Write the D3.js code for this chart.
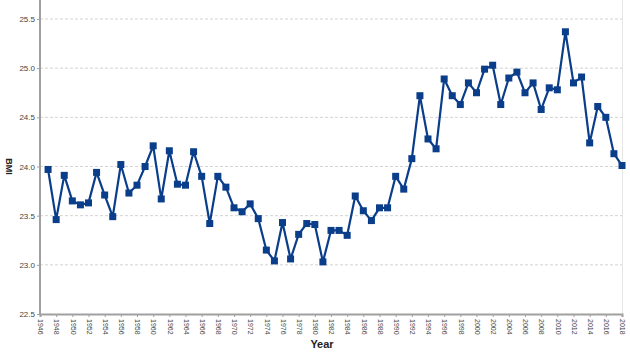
<!DOCTYPE html>
<html>
<head>
<meta charset="utf-8">
<script src="https://cdn.jsdelivr.net/npm/d3@7"></script>
<style>
  body { margin: 0; background: #fff; }
  svg { display: block; font-family: "Liberation Sans", Arial, sans-serif; }
</style>
</head>
<body>
<div id="chart"></div>
<script>
// data
const years = d3.range(1947, 2019);
const bmi = [
  23.97, 23.46, 23.91, 23.65, 23.61, 23.63, 23.94, 23.71, 23.49, 24.02,
  23.73, 23.81, 24.00, 24.21, 23.67, 24.16, 23.82, 23.81, 24.15, 23.90,
  23.42, 23.90, 23.79, 23.58, 23.54, 23.62, 23.47, 23.15, 23.04, 23.43,
  23.06, 23.31, 23.42, 23.41, 23.03, 23.35, 23.35, 23.30, 23.70, 23.55,
  23.45, 23.58, 23.58, 23.90, 23.77, 24.08, 24.72, 24.28, 24.18, 24.89,
  24.72, 24.63, 24.85, 24.75, 24.99, 25.03, 24.63, 24.90, 24.96, 24.75,
  24.85, 24.58, 24.80, 24.78, 25.37, 24.85, 24.91, 24.24, 24.61, 24.50,
  24.13, 24.01
];
const yTicks = [22.5, 23.0, 23.5, 24.0, 24.5, 25.0, 25.5];
const xTicks = d3.range(1946, 2019, 2);

const data = years.map((y, i) => ({ year: y, value: bmi[i] }));

let margin = { top: 19, right: 8, bottom: 39, left: 40 };
let width = 630 - margin.left - margin.right;
let height = 353 - margin.top - margin.bottom;

let svg = d3.select('#chart')
  .append('svg')
  .attr('width', 630)
  .attr('height', 353)
  .append('g')
  .attr('transform', `translate(${margin.left}, ${margin.top})`);

let x = d3.scaleLinear().domain([1946, 2018]).range([0, 582]);
let y = d3.scaleLinear().domain([22.5, 25.5]).range([height, 0]);

// grid lines
svg.append('g')
  .selectAll('line')
  .data(yTicks.slice(1))
  .enter()
  .append('line')
  .attr('x1', 0)
  .attr('x2', 582)
  .attr('y1', d => y(d))
  .attr('y2', d => y(d))
  .attr('stroke', '#d2d2d2')
  .attr('stroke-width', 1)
  .attr('stroke-dasharray', '3,2');

// right border
svg.append('line')
  .attr('x1', 582.5).attr('x2', 582.5)
  .attr('y1', -margin.top).attr('y2', height)
  .attr('stroke', '#e6e6e6');

// y axis
let yAxis = d3.axisLeft(y)
  .tickValues(yTicks)
  .tickFormat(d3.format('.1f'))
  .tickSize(3)
  .tickPadding(2);
let gy = svg.append('g').call(yAxis);
gy.select('.domain').attr('stroke', '#a0a0a0').attr('stroke-width', 2)
  .attr('d', `M0,${-margin.top}V${height}`);
gy.selectAll('.tick line').attr('stroke', '#a0a0a0');
gy.selectAll('text').attr('fill', '#444').style('font-size', '8px');

// x axis
let xAxis = d3.axisBottom(x)
  .tickValues(xTicks)
  .tickFormat(d3.format('d'))
  .tickSize(3);
let gx = svg.append('g')
  .attr('transform', `translate(0, ${height})`)
  .call(xAxis);
gx.select('.domain').attr('stroke', '#a0a0a0').attr('stroke-width', 2);
gx.selectAll('.tick line').attr('stroke', '#a0a0a0');
gx.selectAll('text')
  .attr('fill', '#444')
  .style('font-size', '7px')
  .style('text-anchor', 'start')
  .attr('dy', '0.32em')
  .attr('x', 0)
  .attr('y', 0)
  .attr('transform', 'translate(0, 5) rotate(90)');

// axis titles
svg.append('text')
  .attr('x', 282)
  .attr('y', height + 34)
  .attr('text-anchor', 'middle')
  .style('font-size', '11px')
  .style('font-weight', 'bold')
  .attr('fill', '#222')
  .text('Year');

svg.append('text')
  .attr('transform', `translate(${-35}, ${y(24.0)}) rotate(90)`)
  .attr('text-anchor', 'middle')
  .attr('dy', '-0.1em')
  .style('font-size', '9px')
  .style('font-weight', 'bold')
  .attr('fill', '#222')
  .text('BMI');

// line
let line = d3.line()
  .x(d => x(d.year))
  .y(d => y(d.value));

svg.append('path')
  .datum(data)
  .attr('fill', 'none')
  .attr('stroke', '#0a3d8a')
  .attr('stroke-width', 2.2)
  .attr('stroke-linejoin', 'round')
  .attr('d', line);

svg.selectAll('rect.pt')
  .data(data)
  .enter()
  .append('rect')
  .attr('class', 'pt')
  .attr('x', d => x(d.year) - 3.5)
  .attr('y', d => y(d.value) - 3.5)
  .attr('width', 7)
  .attr('height', 7)
  .attr('fill', '#0a3d8a');
</script>
</body>
</html>
